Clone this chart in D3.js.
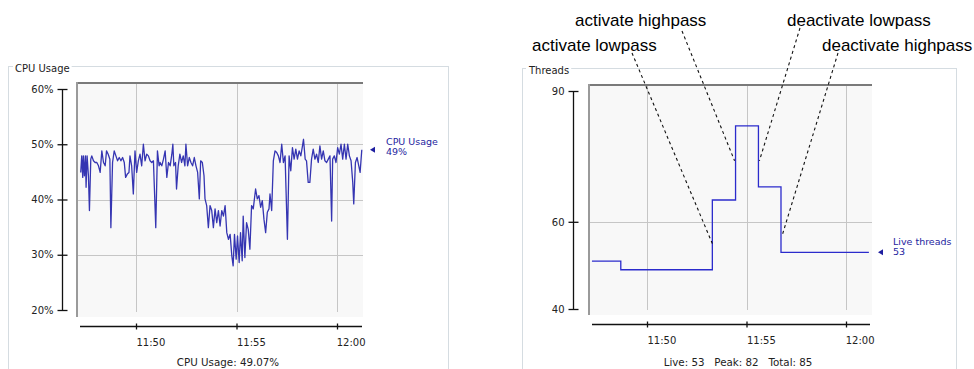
<!DOCTYPE html>
<html><head><meta charset="utf-8">
<script src="https://cdn.jsdelivr.net/npm/d3@7"></script>
<style>
html,body{margin:0;padding:0;background:#fff;}
svg{display:block;}
text{font-family:"DejaVu Sans",sans-serif;}
text.ann{font-family:"Liberation Sans",Arial,sans-serif;}
</style></head>
<body>
<svg id="c" width="974" height="369"></svg>
<script>
// ---------- DATA ----------
const cpuTimes = ["11:47:15","11:47:18","11:47:21","11:47:23","11:47:26","11:47:29","11:47:31","11:47:34","11:47:38","11:47:41",
"11:47:45","11:47:48","11:47:53","11:47:58","11:48:03","11:48:08","11:48:13","11:48:18","11:48:23","11:48:28",
"11:48:32","11:48:37","11:48:42","11:48:45","11:48:50","11:48:55","11:49:00","11:49:05","11:49:10","11:49:15",
"11:49:20","11:49:25","11:49:29","11:49:34","11:49:39","11:49:42","11:49:47","11:49:52","11:49:57","11:50:02",
"11:50:07","11:50:12","11:50:17","11:50:22","11:50:27","11:50:32","11:50:37","11:50:42","11:50:47","11:50:52",
"11:50:59","11:51:04","11:51:09","11:51:12","11:51:17","11:51:22","11:51:27","11:51:32","11:51:37","11:51:42",
"11:51:47","11:51:50","11:51:53","11:51:58","11:52:01","11:52:06","11:52:11","11:52:16","11:52:21","11:52:26",
"11:52:29","11:52:34","11:52:39","11:52:44","11:52:49","11:52:54","11:52:59","11:53:04","11:53:09","11:53:13",
"11:53:18","11:53:23","11:53:26","11:53:31","11:53:36","11:53:41","11:53:46","11:53:51","11:53:56","11:54:01",
"11:54:06","11:54:11","11:54:16","11:54:21","11:54:26","11:54:31","11:54:36","11:54:41","11:54:46","11:54:50",
"11:54:54","11:54:59","11:55:03","11:55:08","11:55:12","11:55:17","11:55:20","11:55:25","11:55:30","11:55:35",
"11:55:40","11:55:45","11:55:50","11:55:57","11:56:02","11:56:07","11:56:12","11:56:17","11:56:22","11:56:27",
"11:56:32","11:56:37","11:56:40","11:56:45","11:56:50","11:56:55","11:57:00","11:57:05","11:57:10","11:57:15",
"11:57:20","11:57:25","11:57:32","11:57:37","11:57:42","11:57:47","11:57:52","11:57:57","11:58:02","11:58:07",
"11:58:12","11:58:17","11:58:20","11:58:25","11:58:29","11:58:34","11:58:39","11:58:44","11:58:49","11:58:54",
"11:58:59","11:59:04","11:59:09","11:59:14","11:59:19","11:59:24","11:59:29","11:59:34","11:59:39","11:59:44",
"11:59:47","11:59:52","11:59:57","12:00:02","12:00:07","12:00:12","12:00:17","12:00:22","12:00:27","12:00:32",
"12:00:37","12:00:42","12:00:47","12:00:50","12:00:55","12:01:00","12:01:05","12:01:09","12:01:14"];
const cpuValues = [44.9,47.9,44.0,47.9,44.3,47.9,42.2,47.9,44.3,38.0,
47.3,47.9,47.0,46.7,46.7,46.1,44.9,48.8,46.7,46.1,
48.8,48.2,47.3,34.9,46.7,48.8,47.9,47.0,47.6,47.0,
47.6,46.7,44.0,44.6,44.9,47.9,46.1,41.0,48.8,44.9,
47.0,48.2,46.1,50.0,47.0,48.2,47.9,47.0,46.7,47.0,
34.9,48.8,46.1,46.7,46.1,47.3,48.8,44.0,46.7,46.1,
48.2,50.0,46.1,46.7,41.9,46.1,48.2,46.7,47.9,46.1,
50.0,46.1,47.6,46.7,46.1,47.6,46.1,44.9,40.1,47.0,
46.7,44.3,40.1,38.9,34.9,38.9,38.0,34.9,38.3,35.8,
38.0,35.2,38.0,37.0,38.9,34.0,32.8,33.7,29.8,28.0,
33.7,29.2,33.4,28.6,34.0,28.9,37.0,29.5,35.8,34.6,
31.0,38.9,38.3,41.9,40.1,40.7,38.6,39.8,36.4,34.0,
37.7,38.3,41.0,38.0,47.0,48.8,48.5,47.9,46.7,50.0,
46.7,47.9,32.8,47.9,45.2,49.4,47.3,49.1,47.3,48.8,
47.9,49.7,50.9,47.3,47.0,43.1,43.1,47.3,49.1,47.3,
48.2,46.7,49.7,47.3,48.8,47.0,46.7,47.3,47.9,36.1,
47.3,47.9,46.7,49.4,48.2,50.0,47.3,50.0,47.3,50.0,
47.9,47.0,43.1,39.2,46.7,47.6,46.1,44.9,49.0];
const cpuTickLabels = ["60%","50%","40%","30%","20%"];
const cpuTickValues = [60,50,40,30,20];
const cpuGridValues = [50,40,30];

const threadTimes = ["11:47:14","11:48:41","11:53:17","11:54:27","11:55:36","11:56:44","12:01:09"];
const threadValues = [51,49,65,82,68,53,53];
const threadTickValues = [90,60,40];
const threadGridValues = [60];

const timeTickLabels = ["11:50","11:55","12:00"];

const annLabels = ["activate lowpass","activate highpass","deactivate lowpass","deactivate highpass"];
const annTimes = ["11:53:17","11:54:24","11:55:39","11:56:48"];
const annValues = [55,74,74,57];

// ---------- HELPERS ----------
const parse = d3.timeParse("%H:%M:%S");
const parseHM = d3.timeParse("%H:%M");
const svg = d3.select("#c");

function panel(cfg){
  const g = svg.append("g");
  g.append("rect").attr("x",cfg.fx+0.5).attr("y",cfg.fy+0.5).attr("width",cfg.fw).attr("height",400)
    .attr("fill","none").attr("stroke","#d5dce1").attr("stroke-width",1);
  const t = g.append("text").attr("x",cfg.fx+7).attr("y",cfg.fy+6).attr("font-size","10px").attr("fill","#222").text(cfg.title);
  const bb = t.node().getBBox();
  g.insert("rect","text").attr("x",bb.x-2).attr("y",cfg.fy-3).attr("width",bb.width+4).attr("height",8).attr("fill","#fff");

  const x = d3.scaleTime().domain([parseHM("11:50"),parseHM("12:00")]).range([cfg.x50,cfg.x00]);
  const y = d3.scaleLinear().domain(cfg.ydom).range(cfg.yrange);

  g.append("rect").attr("x",cfg.bl).attr("y",cfg.bt).attr("width",cfg.br-cfg.bl).attr("height",cfg.bb-cfg.bt).attr("fill","#f8f8f8");
  const tickDates = timeTickLabels.map(parseHM);
  g.selectAll(".vg").data(tickDates).enter().append("line")
    .attr("x1",d=>Math.round(x(d))+0.5).attr("x2",d=>Math.round(x(d))+0.5)
    .attr("y1",cfg.bt).attr("y2",cfg.bb-5).attr("stroke","#c6c6c6").attr("stroke-width",1);
  g.selectAll(".hg").data(cfg.grid).enter().append("line")
    .attr("x1",cfg.bl+2).attr("x2",cfg.br).attr("y1",d=>Math.round(y(d))+0.5).attr("y2",d=>Math.round(y(d))+0.5)
    .attr("stroke","#c6c6c6").attr("stroke-width",1);
  g.append("line").attr("x1",cfg.bl).attr("x2",cfg.br).attr("y1",cfg.bt+1).attr("y2",cfg.bt+1).attr("stroke","#7a7a7a").attr("stroke-width",2);
  g.append("line").attr("x1",cfg.bl+1).attr("x2",cfg.bl+1).attr("y1",cfg.bt).attr("y2",cfg.bb).attr("stroke","#9a9a9a").attr("stroke-width",2);

  const ya = g.append("g").attr("transform",`translate(${cfg.yax+0.5},0)`)
    .call(d3.axisLeft(y).tickValues(cfg.ticks).tickFormat((d,i)=>cfg.tickLabels[i]).tickSize(0).tickPadding(9));
  ya.select(".domain").attr("d",`M0,${y(cfg.ydom[0])}V${y(cfg.ydom[1])}`).attr("stroke","#111").attr("stroke-width",1.3);
  ya.selectAll(".tick line").attr("x1",-5).attr("x2",5).attr("stroke","#111").attr("stroke-width",1.3);
  ya.selectAll(".tick text").attr("font-size","10px").attr("fill","#222");

  const xa = g.append("g").attr("transform",`translate(0,${cfg.xay+0.5})`)
    .call(d3.axisBottom(x).tickValues(tickDates).tickFormat((d,i)=>timeTickLabels[i]).tickSize(0).tickPadding(12));
  xa.select(".domain").attr("d",`M${cfg.xl},0H${cfg.xr}`).attr("stroke","#111").attr("stroke-width",1.3);
  xa.selectAll(".tick line").attr("y1",-3).attr("y2",3).attr("stroke","#111").attr("stroke-width",1.3);
  xa.selectAll(".tick text").attr("font-size","10px").attr("fill","#222")
    .attr("text-anchor","start")
    .attr("x",function(d){ const w=this.getComputedTextLength(); const tx=x(d); return Math.min(0, cfg.br+2-(tx+w)); });

  return {g,x,y};
}

// ---------- LEFT: CPU ----------
const L = panel({fx:8,fy:66,fw:440,title:"CPU Usage",x50:136,x00:337,ydom:[20,60],yrange:[310,89],
  bl:76,bt:82,br:363,bb:317,grid:cpuGridValues,yax:62,ticks:cpuTickValues,tickLabels:cpuTickLabels,xay:326,xl:80,xr:362});
const cpuData = cpuTimes.map((t,i)=>({t:parse(t),v:cpuValues[i]}));
L.g.append("path").datum(cpuData)
  .attr("d",d3.line().x(d=>L.x(d.t)).y(d=>L.y(d.v)))
  .attr("fill","none").attr("stroke","#3535b2").attr("stroke-width",1.3).attr("stroke-linejoin","round");
const lastC = cpuData[cpuData.length-1];
L.g.append("path").attr("d",`M${373-3},${L.y(lastC.v)}l5,-3v6z`).attr("fill","#1e1ea0");
L.g.append("text").attr("x",386).attr("y",L.y(lastC.v)-5).attr("font-size","9.5px").attr("fill","#1e1ea0").text("CPU Usage");
L.g.append("text").attr("x",386).attr("y",L.y(lastC.v)+5).attr("font-size","9.5px").attr("fill","#1e1ea0").text(Math.round(lastC.v)+"%");
L.g.append("text").attr("x",228).attr("y",366).attr("text-anchor","middle").attr("font-size","10.3px").attr("fill","#222").text("CPU Usage: 49.07%");

// ---------- RIGHT: Threads ----------
const R = panel({fx:522,fy:68,fw:434,title:"Threads",x50:647,x00:846,ydom:[40,90],yrange:[309,91],
  bl:588,bt:84,br:872,bb:315,grid:threadGridValues,yax:573,ticks:threadTickValues,tickLabels:threadTickValues.map(String),xay:324,xl:592,xr:870});
const thrData = threadTimes.map((t,i)=>({t:parse(t),v:threadValues[i]}));
R.g.append("path").datum(thrData)
  .attr("d",d3.line().x(d=>R.x(d.t)).y(d=>R.y(d.v)).curve(d3.curveStepAfter))
  .attr("fill","none").attr("stroke","#2b2bcc").attr("stroke-width",1.3);
const lastT = thrData[thrData.length-1];
R.g.append("path").attr("d",`M${881-3},${R.y(lastT.v)}l5,-3v6z`).attr("fill","#1e1ea0");
R.g.append("text").attr("x",893).attr("y",R.y(lastT.v)-7).attr("font-size","9.5px").attr("fill","#1e1ea0").text("Live threads");
R.g.append("text").attr("x",893).attr("y",R.y(lastT.v)+3).attr("font-size","9.5px").attr("fill","#1e1ea0").text(String(lastT.v));
R.g.append("text").attr("x",738).attr("y",366).attr("text-anchor","middle").attr("font-size","10.3px").attr("fill","#222")
  .style("white-space","pre").text("Live: 53   Peak: 82   Total: 85");

// ---------- Annotations ----------
const annLayout = [{tx:532,ty:51,lx:632,ly:53},{tx:575,ty:26,lx:682,ly:31},{tx:787,ty:26,lx:800,ly:28},{tx:822,ty:51,lx:838,ly:53}];
annLabels.forEach((lab,i)=>{
  const a = annLayout[i];
  svg.append("line").attr("x1",a.lx).attr("y1",a.ly)
    .attr("x2",R.x(parse(annTimes[i]))).attr("y2",R.y(annValues[i]))
    .attr("stroke","#111").attr("stroke-width",1.1).attr("stroke-dasharray","3,3");
  svg.append("text").attr("class","ann").attr("x",a.tx).attr("y",a.ty)
    .attr("font-size","17px").attr("fill","#000").text(lab);
});
</script>
</body></html>
